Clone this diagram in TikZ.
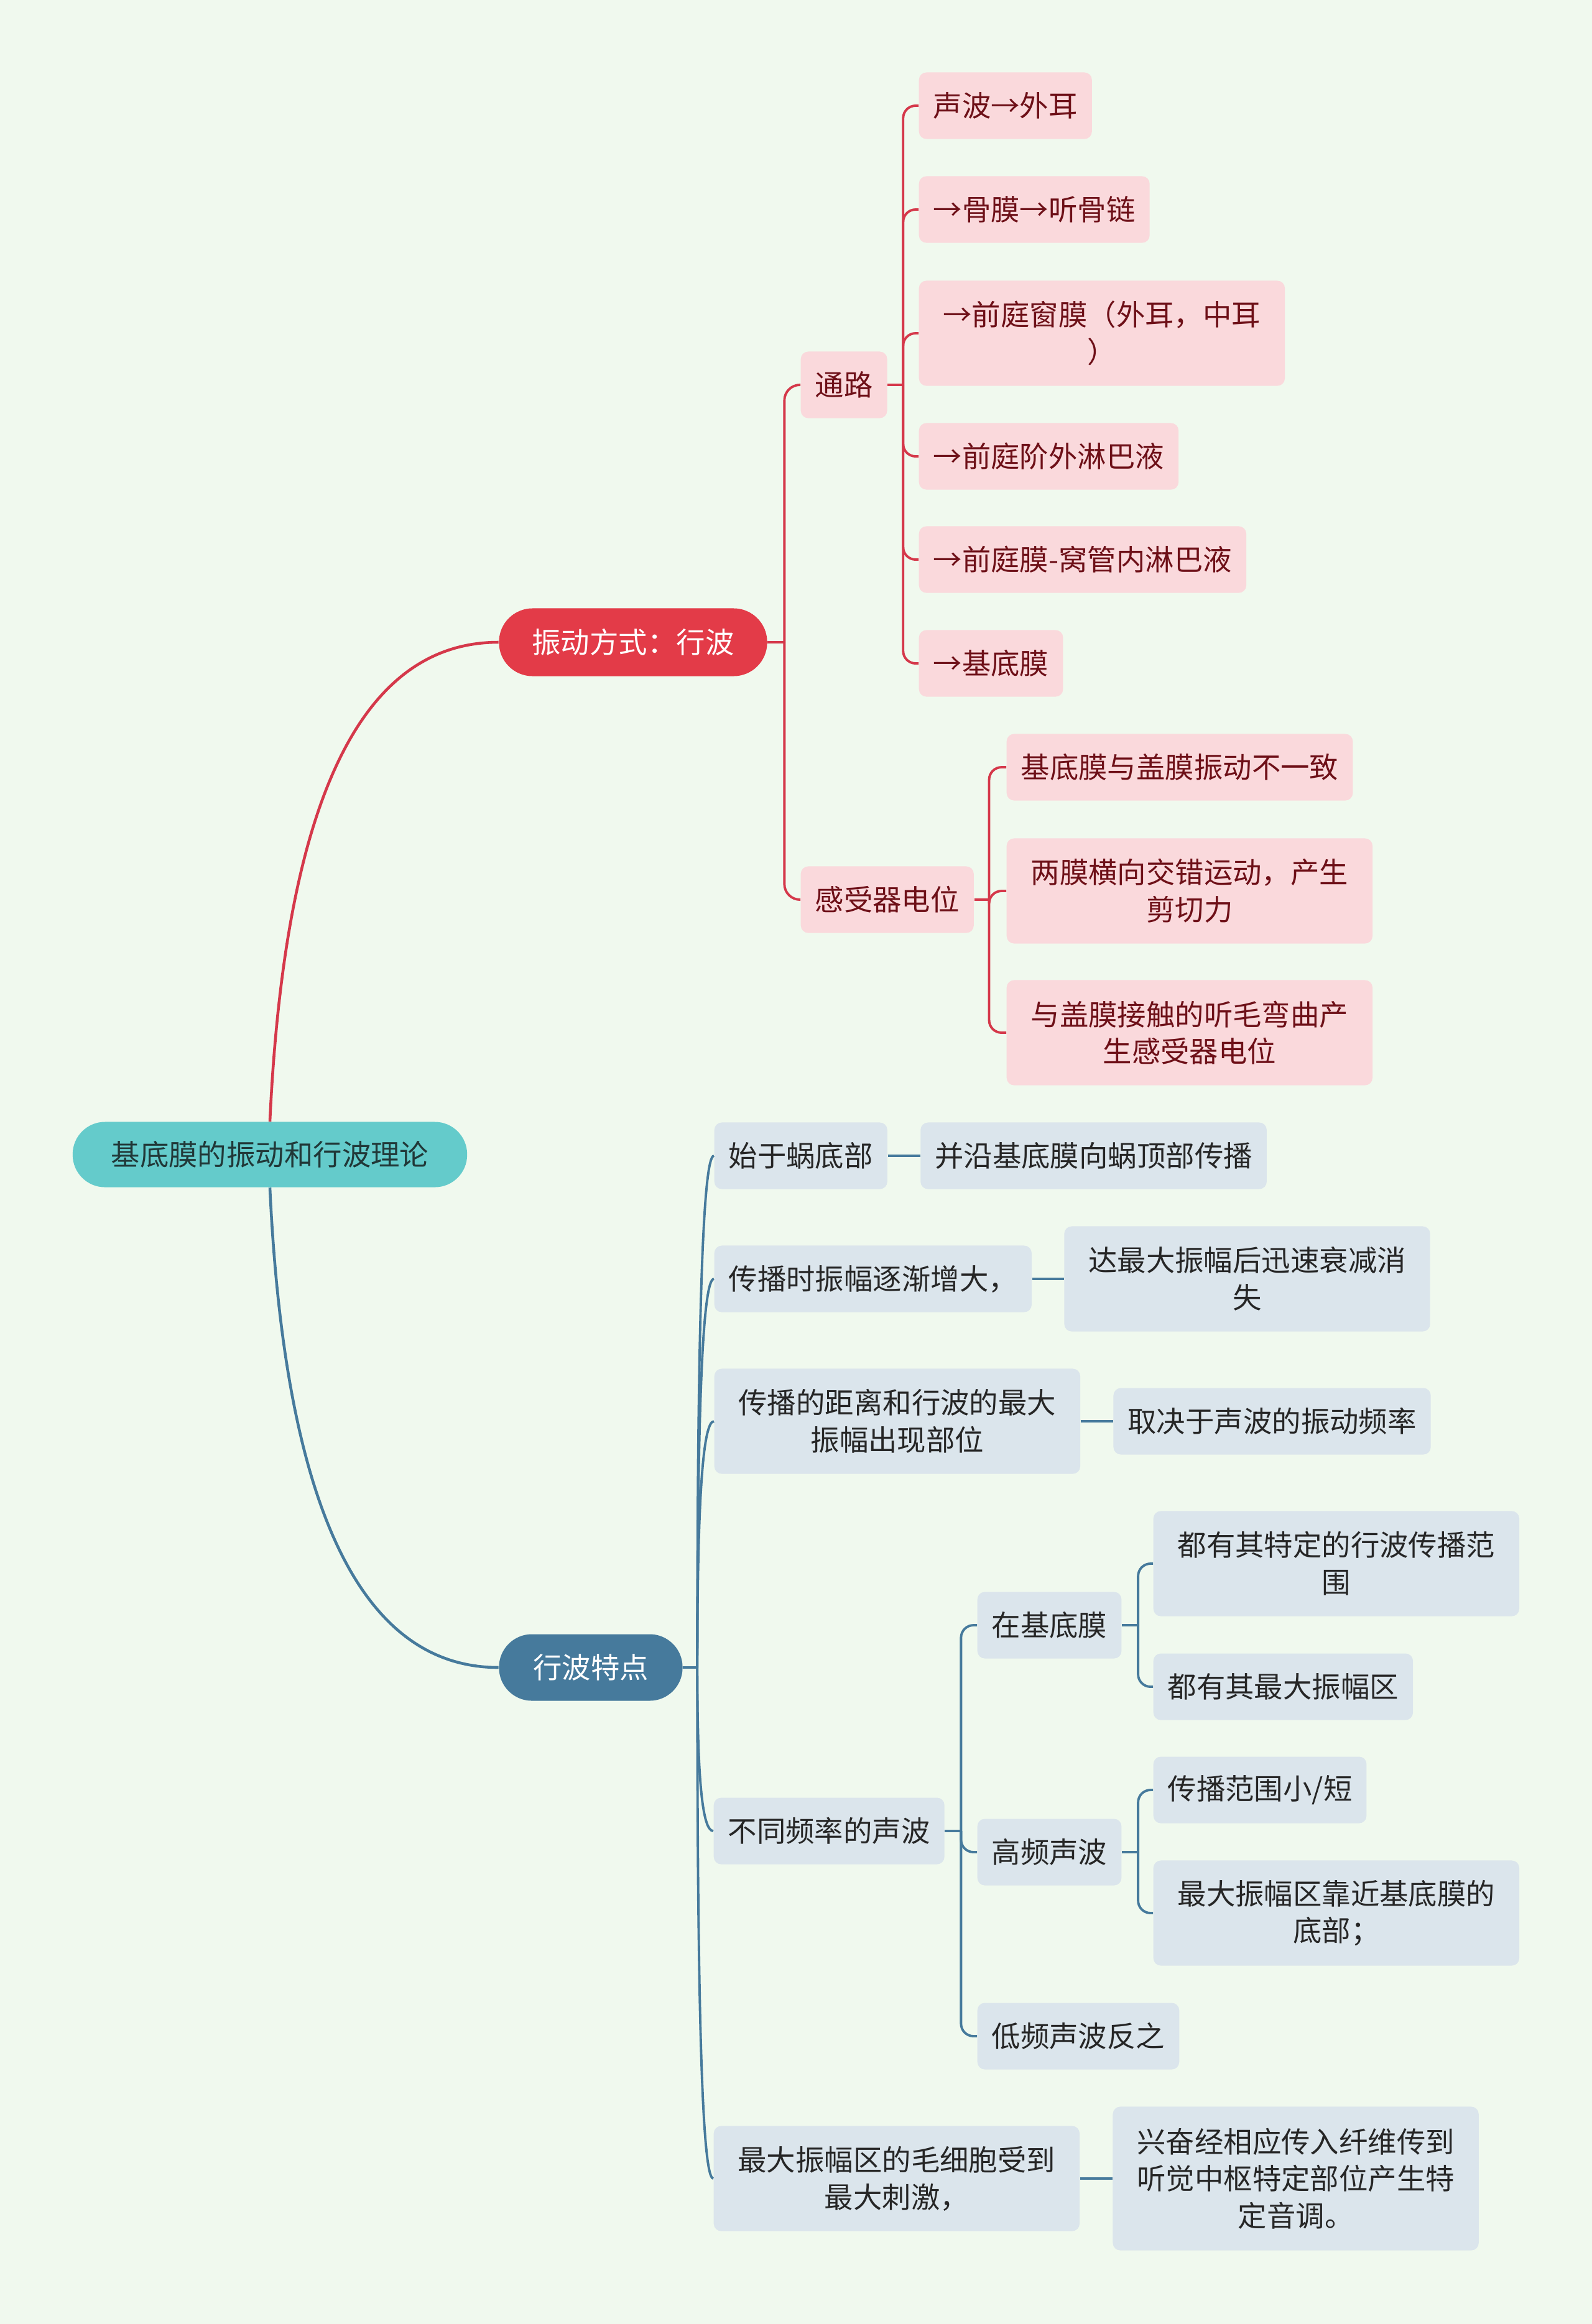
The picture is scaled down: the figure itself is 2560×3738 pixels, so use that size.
\documentclass[tikz,border=0pt]{standalone}
\usepackage{fontspec}
\setmainfont{Noto Sans CJK SC}
\usepackage{tikz}
\usetikzlibrary{positioning,calc}
\usepackage{xcolor}
\definecolor{bgc}{HTML}{F0F9EE}
\definecolor{rootc}{HTML}{64CBCB}
\definecolor{roottxt}{HTML}{213838}
\definecolor{redc}{HTML}{E33B48}
\definecolor{pinkc}{HTML}{FAD9DC}
\definecolor{maroon}{HTML}{6E1018}
\definecolor{bluec}{HTML}{467A9C}
\definecolor{greyc}{HTML}{DBE5EC}
\definecolor{redln}{HTML}{D5384A}

\begin{document}
\begin{tikzpicture}[
  x=0.01cm, y=-0.01cm,
  every node/.style={font=\fontsize{13.2}{17}\selectfont, inner xsep=0.23cm,
    inner ysep=0.1cm, minimum height=1.07cm, align=center},
  root/.style={fill=rootc, text=roottxt, rounded corners=0.52cm,
    minimum width=6.34cm, minimum height=1.05cm},
  redmain/.style={fill=redc, text=white, rounded corners=0.54cm,
    minimum width=4.31cm, minimum height=1.09cm},
  bluemain/.style={fill=bluec, text=white, rounded corners=0.53cm,
    minimum width=2.95cm},
  redbox/.style={fill=pinkc, text=maroon, rounded corners=0.12cm, anchor=west},
  bluebox/.style={fill=greyc, text=black!85, rounded corners=0.12cm, anchor=west},
  wrap/.style={text width=5.42cm},
  two/.style={minimum height=1.69cm},
  three/.style={minimum height=2.31cm},
  redline/.style={draw=redln, line width=1.1pt},
  blueline/.style={draw=bluec, line width=1.1pt}
]
  \fill[bgc] (0,0) rectangle (2560,3738);

  % main topic and first level
  \node[root] (root) at (434,1857) {基底膜的振动和行波理论};
  \node[redmain] (vib) at (1018,1033) {振动方式：行波};
  \node[bluemain] (wave) at (950,2682) {行波特点};

  % red side
  \node[redbox] (path) at (1287,619) {通路};
  \node[redbox] (recp) at (1287,1447) {感受器电位};

  \node[redbox] (p1) at (1477,170) {声波→外耳};
  \node[redbox] (p2) at (1477,337) {→骨膜→听骨链};
  \node[redbox, wrap, two] (p3) at (1477,536) {→前庭窗膜（外耳，中耳\\）};
  \node[redbox] (p4) at (1477,734) {→前庭阶外淋巴液};
  \node[redbox] (p5) at (1477,900) {→前庭膜-窝管内淋巴液};
  \node[redbox] (p6) at (1477,1067) {→基底膜};

  \node[redbox] (r1) at (1618,1234) {基底膜与盖膜振动不一致};
  \node[redbox, wrap, two] (r2) at (1618,1433) {两膜横向交错运动，产生\\剪切力};
  \node[redbox, wrap, two] (r3) at (1618,1661) {与盖膜接触的听毛弯曲产\\生感受器电位};

  % blue side
  \node[bluebox] (s1) at (1148,1859) {始于蜗底部};
  \node[bluebox, right=0.52cm of s1] (s1b) {并沿基底膜向蜗顶部传播};
  \node[bluebox] (s2) at (1148,2057) {传播时振幅逐渐增大，};
  \node[bluebox, wrap, two, right=0.51cm of s2] (s2b) {达最大振幅后迅速衰减消\\失};
  \node[bluebox, wrap, two] (s3) at (1148,2286) {传播的距离和行波的最大\\振幅出现部位};
  \node[bluebox, right=0.52cm of s3] (s3b) {取决于声波的振动频率};
  \node[bluebox] (s4) at (1147,2945) {不同频率的声波};
  \node[bluebox, wrap, two] (s5) at (1147,3504) {最大振幅区的毛细胞受到\\最大刺激，};
  \node[bluebox, wrap, three, right=0.52cm of s5] (s5b) {兴奋经相应传入纤维传到\\听觉中枢特定部位产生特\\定音调。};

  \node[bluebox] (f1) at (1571,2614) {在基底膜};
  \node[bluebox] (f2) at (1571,2979) {高频声波};
  \node[bluebox] (f3) at (1571,3275) {低频声波反之};
  \node[bluebox, wrap, two] (m1) at (1854,2515) {都有其特定的行波传播范\\围};
  \node[bluebox] (m2) at (1854,2713) {都有其最大振幅区};
  \node[bluebox] (h1) at (1854,2879) {传播范围小/短};
  \node[bluebox, wrap, two] (h2) at (1854,3077) {最大振幅区靠近基底膜的\\底部；};

  % connectors from the main topic
  \draw[redline, line width=1.3pt] (root.north) .. controls +(24,-514) and +(-222,0) .. (vib.west);
  \draw[blueline, line width=1.3pt] (root.south) .. controls +(24,515) and +(-221,0) .. (wave.west);

  % red trunks
  \coordinate (vj) at ($(vib.east)+(27,0)$);
  \draw[redline] (vib.east) -- (vj);
  \foreach \c in {path,recp}
    \draw[redline, rounded corners=0.25cm] (vj) |- (\c.west);
  \coordinate (pj) at ($(path.east)+(25,0)$);
  \draw[redline] (path.east) -- (pj);
  \foreach \c in {p1,p2,p3,p4,p5,p6}
    \draw[redline, rounded corners=0.2cm] (pj) |- (\c.west);
  \coordinate (rj) at ($(recp.east)+(24,0)$);
  \draw[redline] (recp.east) -- (rj);
  \foreach \c in {r1,r2,r3}
    \draw[redline, rounded corners=0.2cm] (rj) |- (\c.west);

  % blue trunks
  \coordinate (bj) at ($(wave.east)+(23,0)$);
  \draw[blueline] (wave.east) -- (bj);
  \foreach \c in {s1,s2,s3,s4,s5}
    \draw[blueline] (bj) .. controls ($(bj)!0.67!(bj |- \c.west)$) and +(-18,0) .. (\c.west);
  \draw[blueline] (s1.east) -- (s1b.west);
  \draw[blueline] (s2.east) -- (s2b.west);
  \draw[blueline] (s3.east) -- (s3b.west);
  \draw[blueline] (s5.east) -- (s5b.west);
  \coordinate (fj) at ($(s4.east)+(26,0)$);
  \draw[blueline] (s4.east) -- (fj);
  \foreach \c in {f1,f2,f3}
    \draw[blueline, rounded corners=0.2cm] (fj) |- (\c.west);
  \coordinate (mj) at ($(f1.east)+(26,0)$);
  \draw[blueline] (f1.east) -- (mj);
  \foreach \c in {m1,m2}
    \draw[blueline, rounded corners=0.2cm] (mj) |- (\c.west);
  \coordinate (hj) at ($(f2.east)+(26,0)$);
  \draw[blueline] (f2.east) -- (hj);
  \foreach \c in {h1,h2}
    \draw[blueline, rounded corners=0.2cm] (hj) |- (\c.west);
\end{tikzpicture}
\end{document}
